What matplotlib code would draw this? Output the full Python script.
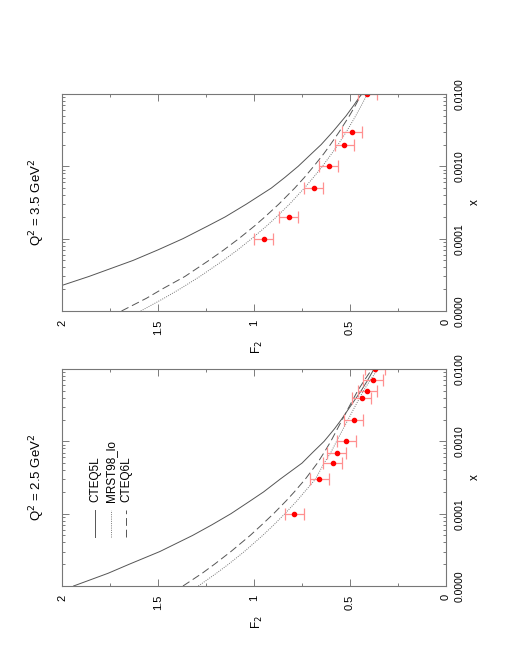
import matplotlib
matplotlib.use("Agg")
import matplotlib.pyplot as plt
from matplotlib.ticker import FixedLocator, LogLocator, FormatStrFormatter, NullFormatter

plt.rcParams['font.family'] = ['Liberation Sans', 'DejaVu Sans']

x_grid = [1e-5, 1.5e-5, 2e-5, 3e-5, 5e-5, 7e-5,
          1e-4, 1.5e-4, 2e-4, 3e-4, 5e-4, 7e-4,
          1e-3, 1.5e-3, 2e-3, 3e-3, 5e-3, 7e-3, 1e-2]

# Q^2 = 2.5 GeV^2
cteq5l_25 = [1.94, 1.76, 1.65, 1.49, 1.32, 1.22, 1.12, 1.02, 0.95, 0.864,
             0.75, 0.695, 0.635, 0.58, 0.545, 0.50, 0.442, 0.408, 0.375]
mrst98_25 = [1.29, 1.196, 1.133, 1.05, 0.955, 0.897, 0.839, 0.777, 0.737, 0.68,
             0.635, 0.60, 0.57, 0.535, 0.51, 0.475, 0.43, 0.395, 0.354]
cteq6l_25 = [1.37, 1.27, 1.206, 1.12, 1.02, 0.96, 0.898, 0.833, 0.79, 0.733,
             0.67, 0.635, 0.60, 0.565, 0.54, 0.505, 0.46, 0.425, 0.385]
x_data_25 = [1e-4, 3e-4, 5e-4, 7e-4, 1e-3, 2e-3, 4e-3, 5e-3, 7e-3, 1e-2]
f2_data_25 = [0.79, 0.66, 0.59, 0.57, 0.52, 0.48, 0.44, 0.41, 0.38, 0.37]
f2_err_25 = [0.05] * len(x_data_25)

# Q^2 = 3.5 GeV^2
cteq5l_35 = [2.40, 2.20, 2.06, 1.86, 1.63, 1.50, 1.37, 1.24, 1.15, 1.04,
             0.91, 0.84, 0.77, 0.70, 0.65, 0.59, 0.52, 0.48, 0.44]
mrst98_35 = [1.59, 1.469, 1.388, 1.282, 1.16, 1.085, 1.012, 0.934, 0.883, 0.815,
             0.738, 0.691, 0.644, 0.595, 0.562, 0.519, 0.47, 0.44, 0.41]
cteq6l_35 = [1.69, 1.56, 1.48, 1.36, 1.235, 1.157, 1.079, 0.997, 0.943, 0.871,
             0.788, 0.738, 0.689, 0.636, 0.602, 0.556, 0.503, 0.471, 0.44]
x_data_35 = [1e-4, 2e-4, 5e-4, 1e-3, 2e-3, 3e-3, 1e-2]
f2_data_35 = [0.95, 0.82, 0.69, 0.61, 0.53, 0.49, 0.41]
f2_err_35 = [0.05] * len(x_data_35)

curve_names = ["CTEQ5L", "MRST98_lo", "CTEQ6L"]
curve_styles = [dict(color='#555555', lw=0.7, ls='-'),
                dict(color='#777777', lw=0.7, ls=(0, (1, 1.3))),
                dict(color='#555555', lw=0.7, ls=(0, (8, 4)))]

fig = plt.figure(figsize=(5.1, 6.6), dpi=100)


def panel(rect, title, curves, xd, yd, err, legend=False):
    # the page is rotated: F2 runs right-to-left, x runs upward
    ax = fig.add_axes(rect)
    for c, st in zip(curves, curve_styles):
        ax.plot(c, x_grid, **st)
    ax.errorbar(yd, xd, xerr=err, fmt='o', color='red', ms=3,
                ecolor='#ff9090', elinewidth=0.9, capsize=4.3, capthick=0.9)
    ax.set_yscale('log')
    ax.set_ylim(1e-5, 1e-2)
    ax.set_xlim(2, 0)

    ax.xaxis.set_major_locator(FixedLocator([0, 0.5, 1, 1.5, 2]))
    ax.xaxis.set_minor_locator(FixedLocator([0.25, 0.75, 1.25, 1.75]))
    ax.set_xticklabels(["0", "0.5", "1", "1.5", "2"])
    ax.yaxis.set_major_locator(FixedLocator([1e-5, 1e-4, 1e-3, 1e-2]))
    ax.yaxis.set_minor_locator(LogLocator(base=10, subs=range(2, 10)))
    ax.yaxis.set_major_formatter(FormatStrFormatter('%.4f'))
    ax.yaxis.set_minor_formatter(NullFormatter())

    ax.tick_params(axis='both', which='both', direction='in', colors='#666666',
                   labelcolor='black', width=0.6)
    ax.tick_params(axis='both', which='major', length=5)
    ax.tick_params(axis='both', which='minor', length=2.5)
    ax.tick_params(axis='x', which='both', top=True, bottom=True,
                   labelrotation=90, labelsize=8, pad=6)
    ax.tick_params(axis='y', which='both', left=True, right=True,
                   labelleft=False, labelright=True, labelrotation=90,
                   labelsize=7.5, pad=6)
    for lab in ax.get_yticklabels():
        lab.set_verticalalignment('center')
    for s in ax.spines.values():
        s.set_color('#777777')
        s.set_linewidth(0.8)

    ax.text(-0.065, 0.5, title, transform=ax.transAxes, rotation=90,
            ha='center', va='center', fontsize=9.5)
    ax.text(1.075, 0.5, "x", transform=ax.transAxes, rotation=90,
            ha='center', va='center', fontsize=8.5)
    ax.text(0.51, -0.165, r"F$_2$", transform=ax.transAxes, rotation=90,
            ha='center', va='center', fontsize=8.5)

    if legend:
        xs = [0.086, 0.128, 0.167]
        for xpos, name, st in zip(xs, curve_names, curve_styles):
            ax.plot([xpos, xpos], [0.226, 0.35], transform=ax.transAxes, **st)
            ax.text(xpos, 0.385, name, transform=ax.transAxes, rotation=90,
                    rotation_mode='anchor', ha='left', va='center', fontsize=8.5)
    return ax


panel([0.1216, 0.5288, 0.7529, 0.3288], r"Q$^2$ = 3.5 GeV$^2$",
      [cteq5l_35, mrst98_35, cteq6l_35], x_data_35, f2_data_35, f2_err_35)
panel([0.1216, 0.1121, 0.7529, 0.3288], r"Q$^2$ = 2.5 GeV$^2$",
      [cteq5l_25, mrst98_25, cteq6l_25], x_data_25, f2_data_25, f2_err_25,
      legend=True)

fig.savefig("out.png", dpi=100)
